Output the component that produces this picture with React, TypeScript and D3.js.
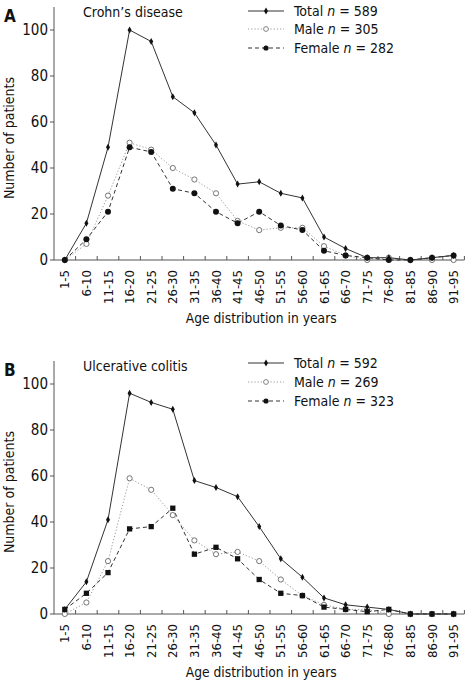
import React from "react";
import * as d3 from "d3";

const categories = ["1-5","6-10","11-15","16-20","21-25","26-30","31-35","36-40","41-45","46-50","51-55","56-60","61-65","66-70","71-75","76-80","81-85","86-90","91-95"];
const yTicks = [0, 20, 40, 60, 80, 100];

const cdTotal = [0,16,49,100,95,71,64,50,33,34,29,27,10,5,1,1,0,1,2];
const cdMale = [0,7,28,51,48,40,35,29,17,13,14,14,6,2,0,1,0,0,0];
const cdFemale = [0,9,21,49,47,31,29,21,16,21,15,13,4,2,1,0,0,1,2];

const ucTotal = [2,14,41,96,92,89,58,55,51,38,24,16,7,4,3,2,0,0,0];
const ucMale = [0,5,23,59,54,43,32,26,27,23,15,8,4,2,2,0,0,0,0];
const ucFemale = [2,9,18,37,38,46,26,29,24,15,9,8,3,2,1,2,0,0,0];

const panels = [
  { letter: "A", title: "Crohn\u2019s disease", total: cdTotal, male: cdMale, female: cdFemale, nTotal: 589, nMale: 305, nFemale: 282, femaleSquare: false },
  { letter: "B", title: "Ulcerative colitis", total: ucTotal, male: ucMale, female: ucFemale, nTotal: 592, nMale: 269, nFemale: 323, femaleSquare: true },
];

const FONT = "'DejaVu Sans Condensed', 'DejaVu Sans', sans-serif";
const AX = "#555";

function Panel({ p, offsetY }: { p: typeof panels[0]; offsetY: number }) {
  const left = 54, right = 464.4;
  const y0 = 260;
  const x = d3.scaleBand<string>().domain(categories).range([left, right]).padding(0);
  const bw = x.bandwidth();
  const cx = (c: string) => (x(c) as number) + bw / 2;
  const y = d3.scaleLinear().domain([0, 110]).range([y0, y0 - 110 * 2.3]);
  const line = d3.line<number>().x((_, i) => cx(categories[i])).y((d) => y(d));
  const diamond = d3.symbol().type(d3.symbolDiamond).size(14)() as string;
  const square = d3.symbol().type(d3.symbolSquare).size(28)() as string;

  const legendRows = [
    { label: "Total", n: p.nTotal, dash: "none", color: "#333", kind: "diamond" },
    { label: "Male", n: p.nMale, dash: "1.2,2", color: "#999", kind: "open" },
    { label: "Female", n: p.nFemale, dash: "4,3", color: "#333", kind: "filled" },
  ];
  const legendY = p.letter === "A" ? [11, 29, 48] : [9, 28, 47];

  return (
    <g transform={`translate(0,${offsetY})`} fontFamily={FONT}>
      <text x={4} y={22} fontSize={17} fontWeight="bold" fill="#111">{p.letter}</text>
      <text x={83} y={16.5} fontSize={14} fill="#111">{p.title}</text>
      {/* y axis */}
      <line x1={left} x2={left} y1={y(110)} y2={y0} stroke={AX} />
      {yTicks.map((t) => (
        <g key={t}>
          <line x1={left - 4} x2={left} y1={y(t)} y2={y(t)} stroke={AX} />
          <text x={48} y={y(t)} dy="0.36em" textAnchor="end" fontSize={15} fill="#111">{t}</text>
        </g>
      ))}
      <text transform={`translate(14,${138}) rotate(-90)`} textAnchor="middle" fontSize={14} fill="#111">Number of patients</text>
      {/* x axis */}
      <line x1={left} x2={right} y1={y0} y2={y0} stroke={AX} />
      {categories.map((c) => (
        <g key={c}>
          <line x1={(x(c) as number) + bw} x2={(x(c) as number) + bw} y1={y0} y2={y0 - 4} stroke={AX} />
          <text transform={`translate(${cx(c)},${y0 + 10}) rotate(-90)`} textAnchor="end" dy="0.36em" fontSize={13} fill="#111">{c}</text>
        </g>
      ))}
      <text x={(left + right) / 2 + 2} y={y0 + 63} textAnchor="middle" fontSize={13.7} fill="#111">Age distribution in years</text>
      {/* lines */}
      <path d={line(p.male) as string} fill="none" stroke="#999" strokeWidth={1} strokeDasharray="1.2,2" />
      <path d={line(p.female) as string} fill="none" stroke="#333" strokeWidth={1} strokeDasharray="4,3" />
      <path d={line(p.total) as string} fill="none" stroke="#333" strokeWidth={1} />
      {p.male.map((v, i) => (
        <circle key={"m" + i} cx={cx(categories[i])} cy={y(v)} r={2.6} fill="#fff" stroke="#666" strokeWidth={0.9} />
      ))}
      {p.female.map((v, i) =>
        p.femaleSquare ? (
          <path key={"f" + i} d={square} transform={`translate(${cx(categories[i])},${y(v)})`} fill="#111" />
        ) : (
          <circle key={"f" + i} cx={cx(categories[i])} cy={y(v)} r={3} fill="#111" />
        )
      )}
      {p.total.map((v, i) => (
        <path key={"t" + i} d={diamond} transform={`translate(${cx(categories[i])},${y(v)})`} fill="#111" />
      ))}
      {/* legend */}
      {legendRows.map((r, i) => (
        <g key={r.label} transform={`translate(0,${legendY[i]})`}>
          <line x1={248} x2={284} y1={0} y2={0} stroke={r.color} strokeDasharray={r.dash} />
          {r.kind === "diamond" && <path d={diamond} transform="translate(266,0)" fill="#111" />}
          {r.kind === "open" && <circle cx={266} cy={0} r={2.4} fill="#fff" stroke="#777" strokeWidth={0.9} />}
          {r.kind === "filled" && <circle cx={266} cy={0} r={2.6} fill="#111" />}
          <text x={294} y={0} dy="0.36em" fontSize={14} fill="#111">
            {r.label} <tspan fontStyle="italic">n</tspan> = {r.n}
          </text>
        </g>
      ))}
    </g>
  );
}

export default function App() {
  return (
    <svg width={472} height={684} style={{ position: "absolute", left: 0, top: 0, background: "#fff" }}>
      <rect width={472} height={684} fill="#fff" />
      <Panel p={panels[0]} offsetY={0} />
      <Panel p={panels[1]} offsetY={354} />
    </svg>
  );
}
